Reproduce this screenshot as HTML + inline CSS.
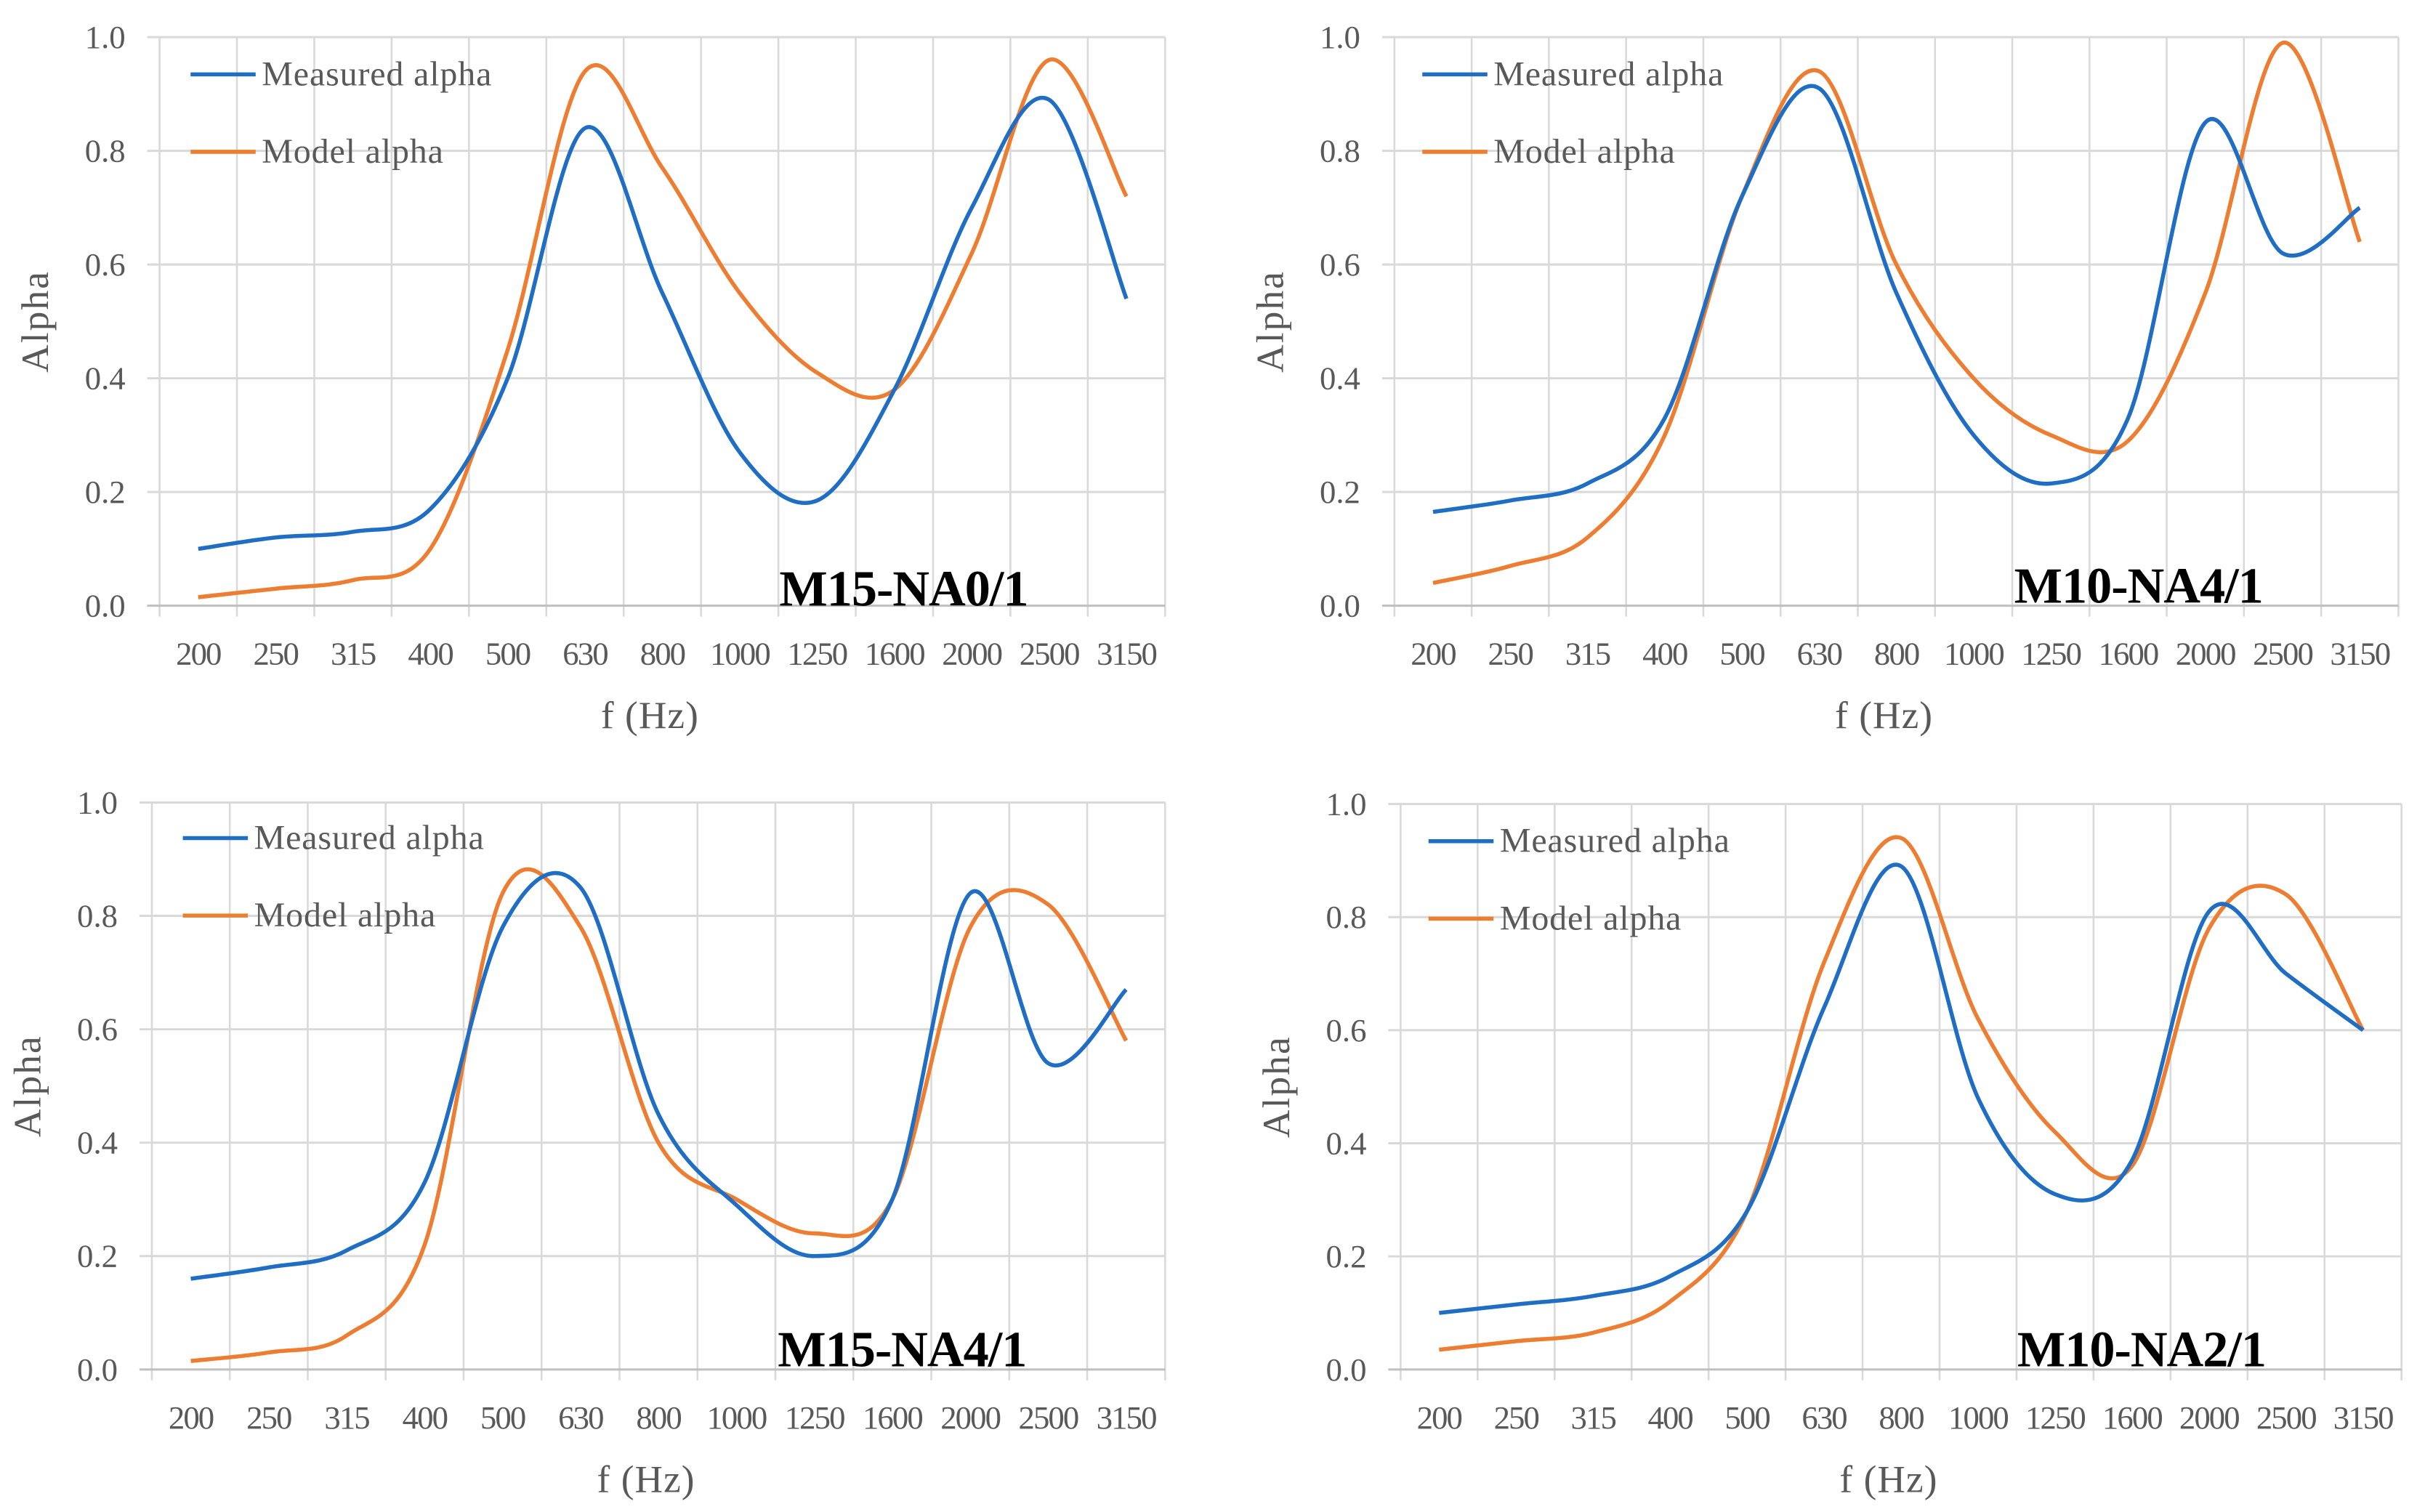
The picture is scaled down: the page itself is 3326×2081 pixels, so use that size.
<!DOCTYPE html>
<html><head><meta charset="utf-8"><style>
html,body{margin:0;padding:0;background:#fff;}
svg{display:block;}
text{font-family:"Liberation Serif",serif;}
</style></head><body>
<svg id="chart" width="3326" height="2081" viewBox="0 0 1560 976" preserveAspectRatio="none" xmlns="http://www.w3.org/2000/svg"></svg>
<script>
const categories = ["200","250","315","400","500","630","800","1000","1250","1600","2000","2500","3150"];
const yTicks = [0,0.2,0.4,0.6,0.8,1.0];
const yTickLabels = ["0.0","0.2","0.4","0.6","0.8","1.0"];
const titles = ["M15-NA0/1","M10-NA4/1","M15-NA4/1","M10-NA2/1"];
const measuredA = [0.10,0.12,0.13,0.17,0.40,0.84,0.55,0.27,0.185,0.38,0.70,0.89,0.54];
const modelA    = [0.015,0.03,0.045,0.10,0.45,0.94,0.77,0.55,0.41,0.38,0.62,0.96,0.72];
const measuredB = [0.165,0.185,0.215,0.33,0.72,0.91,0.55,0.30,0.215,0.33,0.85,0.62,0.70];
const modelB    = [0.04,0.07,0.12,0.30,0.72,0.94,0.60,0.40,0.30,0.29,0.55,0.99,0.64];
const measuredC = [0.16,0.18,0.21,0.33,0.78,0.85,0.45,0.29,0.20,0.30,0.84,0.54,0.67];
const modelC    = [0.015,0.03,0.06,0.22,0.84,0.78,0.40,0.30,0.24,0.30,0.78,0.82,0.58];
const measuredD = [0.10,0.115,0.13,0.165,0.28,0.64,0.89,0.48,0.31,0.37,0.81,0.70,0.60];
const modelD    = [0.035,0.05,0.065,0.12,0.28,0.72,0.94,0.62,0.42,0.36,0.78,0.84,0.60];

const panels = [
 {x0:103,x1:752,y0:391,y1:24,leg:[123,48],tx:503,ty:391,m:measuredA,o:modelA},
 {x0:900,x1:1548,y0:391,y1:24,leg:[918,48],tx:1300,ty:389,m:measuredB,o:modelB},
 {x0:98,x1:752,y0:884,y1:518,leg:[118,541],tx:502,ty:882,m:measuredC,o:modelC},
 {x0:904,x1:1550,y0:884,y1:519,leg:[922,543],tx:1302,ty:882,m:measuredD,o:modelD}
];
const NS="http://www.w3.org/2000/svg";
const svg=document.getElementById('chart');
function mk(tag,attrs,parent,txt){const e=document.createElementNS(NS,tag);for(const k in attrs)e.setAttribute(k,attrs[k]);if(txt!==undefined)e.textContent=txt;(parent||svg).appendChild(e);return e;}
function smooth(pts){let d="M"+pts[0][0]+","+pts[0][1];for(let i=0;i<pts.length-1;i++){const p0=pts[Math.max(0,i-1)],p1=pts[i],p2=pts[i+1],p3=pts[Math.min(pts.length-1,i+2)];const c1=[p1[0]+(p2[0]-p0[0])/6,p1[1]+(p2[1]-p0[1])/6];const c2=[p2[0]-(p3[0]-p1[0])/6,p2[1]-(p3[1]-p1[1])/6];d+=" C"+c1+" "+c2+" "+p2;}return d;}
panels.forEach((p,pi)=>{
 const g=mk('g',{});
 
 
 const n=categories.length,w=(p.x1-p.x0)/n;
 const X=i=>p.x0+w*(i+0.5), Y=v=>p.y0+(p.y1-p.y0)*v;
 for(let i=0;i<=n;i++){const l=mk('line',{x1:p.x0+w*i,x2:p.x0+w*i,y1:p.y1,y2:p.y0+7,stroke:'#d9d9d9','stroke-width':1.2},g);
  }
 yTicks.forEach((t,j)=>{const l=mk('line',{x1:p.x0-8,x2:p.x1,y1:Y(t),y2:Y(t),stroke:t===0?'#bfbfbf':'#d9d9d9','stroke-width':1.4},g);
  
  const tx=mk('text',{x:p.x0-22,y:Y(t)+7,'text-anchor':'end','font-size':21,fill:'#595959'},g,yTickLabels[j]);
  });
 categories.forEach((c,i)=>{const tx=mk('text',{x:X(i),y:p.y0+38,'text-anchor':'middle','font-size':21,fill:'#595959','letter-spacing':-0.9},g,c);
  });
 const xt=mk('text',{x:(p.x0+p.x1)/2-8,y:p.y0+79,'text-anchor':'middle','font-size':25,fill:'#595959','letter-spacing':0.5},g,'f (Hz)');
 
 const cy=(p.y0+p.y1)/2, cx=p.x0-72;
 const yt=mk('text',{x:cx,y:cy,'text-anchor':'middle','font-size':25,fill:'#595959','letter-spacing':1,transform:'rotate(-90 '+cx+' '+cy+')'},g,'Alpha');
 
 const s1=mk('path',{d:smooth(p.o.map((v,i)=>[X(i),Y(v)])),fill:'none',stroke:'#ed7d31','stroke-width':2.6},g);
 
 const s2=mk('path',{d:smooth(p.m.map((v,i)=>[X(i),Y(v)])),fill:'none',stroke:'#1f6ec4','stroke-width':2.6},g);
 
 [['Measured alpha','#1f6ec4',0],['Model alpha','#ed7d31',50]].forEach(([lab,col,dy])=>{
  const lg=mk('g',{},g);
  
  mk('line',{x1:p.leg[0],x2:p.leg[0]+42,y1:p.leg[1]+dy,y2:p.leg[1]+dy,stroke:col,'stroke-width':2.6},lg);
  mk('text',{x:p.leg[0]+46,y:p.leg[1]+dy+7,'font-size':22.5,fill:'#595959','letter-spacing':0.4},lg,lab);});
 const tt=mk('text',{x:p.tx,y:p.ty,'font-size':33,'font-weight':'bold',fill:'#000','letter-spacing':-0.5},g,titles[pi]);
 
});
</script>
</body></html>
